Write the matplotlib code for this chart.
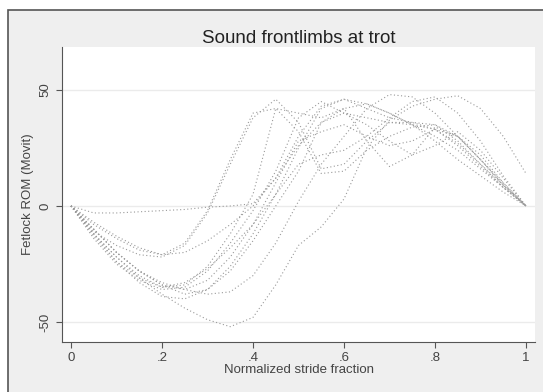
import matplotlib
matplotlib.use("Agg")
import matplotlib.pyplot as plt
from matplotlib.patches import Rectangle

plt.rcParams['font.family'] = ['Liberation Sans', 'DejaVu Sans']

# stride fraction sampled every 0.05
stride = [0, .05, .1, .15, .2, .25, .3, .35, .4, .45, .5,
          .55, .6, .65, .7, .75, .8, .85, .9, .95, 1]

# fetlock ROM per limb
limb01 = [0, -3, -3, -2.5, -2, -1.5, -0.5, 0, 1, 12, 30, 43, 46, 42, 38, 36, 35, 30, 20, 9, 0]
limb02 = [0, -11, -17, -21, -22, -17, -3, 18, 38, 46, 36, 16, 18, 28, 36, 36, 33, 27, 18, 9, 0]
limb03 = [0, -8, -14, -19, -21, -16, -2, 20, 40, 42, 40, 38, 42, 44, 40, 35, 30, 24, 16, 8, 0]
limb04 = [0, -14, -25, -32, -36, -35, -28, -16, -2, 15, 38, 45, 40, 35, 28, 22, 26, 32, 24, 12, 0]
limb05 = [0, -12, -24, -33, -39, -40, -36, -26, -12, 5, 25, 42, 46, 44, 40, 35, 28, 20, 13, 6, 0]
limb06 = [0, -10, -20, -28, -33, -36, -38, -37, -30, -16, 2, 18, 30, 42, 48, 47, 40, 30, 20, 10, 0]
limb07 = [0, -12, -22, -31, -38, -44, -49, -52, -48, -34, -17, -9, 3, 25, 37, 43, 46, 47.5, 42, 30, 14]
limb08 = [0, -13, -24, -31, -35, -34, -26, -12, 5, 42, 32, 14, 15, 24, 30, 34, 35, 28, 18, 8, 0]
limb09 = [0, -10, -20, -28, -34, -38, -36, -28, -15, 0, 15, 36, 42, 28, 17, 22, 34, 30, 20, 9, 0]
limb10 = [0, -12, -22, -30, -35, -33, -27, -18, -8, 5, 18, 22, 24, 30, 38, 45, 47, 40, 28, 13, 0]
limb11 = [0, -7, -13, -18, -21, -20, -15, -8, 0, 12, 26, 36, 40, 38, 36, 35, 33, 26, 17, 8, 0]
limb12 = [0, -10, -20, -28, -34, -36, -32, -22, -8, 10, 28, 32, 35, 30, 26, 28, 33, 30, 22, 10, 0]

limbs = [limb01, limb02, limb03, limb04, limb05, limb06,
         limb07, limb08, limb09, limb10, limb11, limb12]

fig = plt.figure(figsize=(5.43, 3.92), dpi=100, facecolor='white')
# grey stata-like background with frame
fig.patches.append(Rectangle((8 / 543, -0.1), 1.2, 1 - 10 / 392 + 0.1,
                             transform=fig.transFigure, facecolor='#efefef',
                             edgecolor='#555555', linewidth=1.2, zorder=-5))

ax = fig.add_axes([62 / 543, 1 - 342 / 392, (535 - 62) / 543, (342 - 47) / 392])
ax.set_zorder(2)
ax.set_facecolor('white')

for y in limbs:
    ax.plot(stride, y, color='#9a9a9a', linestyle=(0, (1, 2.2)), linewidth=0.8)

ax.set_xlim(-0.0198, 1.0198)
ax.set_ylim(-58.6, 68.5)
ax.set_xticks([0, .2, .4, .6, .8, 1])
ax.set_xticklabels(['0', '.2', '.4', '.6', '.8', '1'])
ax.set_yticks([-50, 0, 50])
ax.set_yticklabels(['-50', '0', '50'], rotation=90, va='center')
ax.grid(axis='y', color='#ebebeb', linewidth=1)
ax.set_axisbelow(True)

for s in ['top', 'right']:
    ax.spines[s].set_visible(False)
for s in ['left', 'bottom']:
    ax.spines[s].set_color('#555555')
ax.tick_params(colors='#555555', labelcolor='#444444', labelsize=9.5, length=4)

ax.set_title('Sound frontlimbs at trot', fontsize=13.5, color='#222222', pad=3)
ax.set_xlabel('Normalized stride fraction', fontsize=9.5, color='#444444', labelpad=0)
ax.set_ylabel('Fetlock ROM (Movit)', fontsize=9.5, color='#444444', labelpad=4)

fig.savefig('out.png', dpi=100, facecolor=fig.get_facecolor())
